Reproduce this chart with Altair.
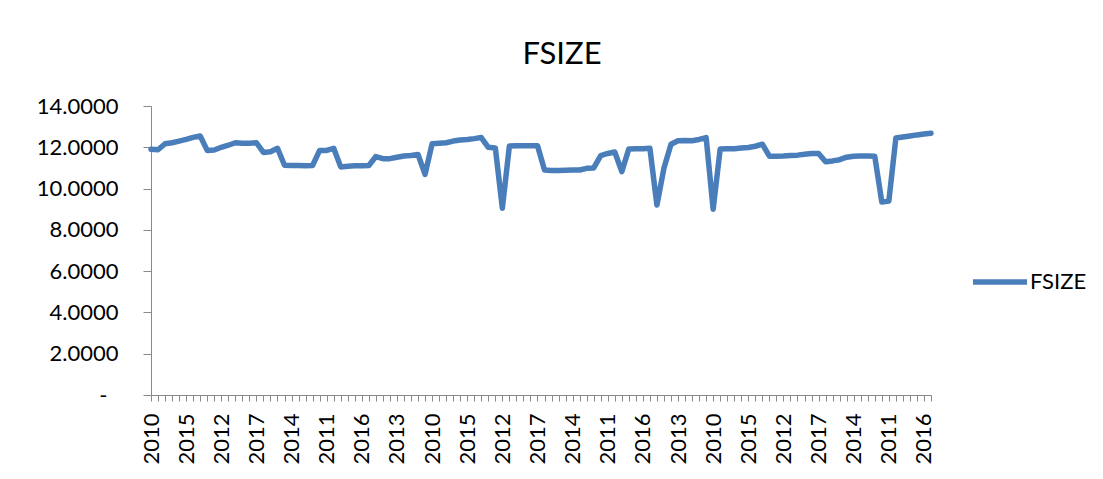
import altair as alt
import pandas as pd

series_name = "FSIZE"
years = [2010, 2011, 2012, 2013, 2014, 2015, 2016, 2017] * 14
values = [
    11.90, 11.88, 12.17, 12.22, 12.30, 12.38, 12.48, 12.55,
    11.85, 11.87, 12.00, 12.10, 12.22, 12.19, 12.20, 12.22,
    11.75, 11.78, 11.95, 11.13, 11.12, 11.12, 11.11, 11.12,
    11.85, 11.85, 11.95, 11.05, 11.08, 11.10, 11.10, 11.12,
    11.55, 11.45, 11.45, 11.52, 11.58, 11.60, 11.65, 10.69,
    12.17, 12.20, 12.22, 12.30, 12.35, 12.38, 12.42, 12.47,
    12.00, 11.97, 9.05, 12.06, 12.08, 12.08, 12.08, 12.08,
    10.90, 10.88, 10.88, 10.89, 10.90, 10.90, 10.98, 11.00,
    11.60, 11.70, 11.77, 10.82, 11.92, 11.93, 11.93, 11.95,
    9.20, 11.00, 12.15, 12.32, 12.33, 12.32, 12.38, 12.47,
    9.00, 11.92, 11.93, 11.93, 11.96, 11.99, 12.05, 12.15,
    11.57, 11.57, 11.58, 11.60, 11.62, 11.66, 11.70, 11.70,
    11.30, 11.34, 11.40, 11.52, 11.57, 11.58, 11.58, 11.56,
    9.35, 9.40, 12.45, 12.50, 12.55, 12.60, 12.64, 12.68,
]
y_ticks = [0, 2, 4, 6, 8, 10, 12, 14]

df = pd.DataFrame({
    "idx": list(range(len(values))),
    "year": years,
    "value": values,
    "series": [series_name] * len(values),
})

year_js = "[" + ",".join(str(y) for y in years) + "]"
x_label_expr = f"datum.value % 5 == 0 ? '' + {year_js}[datum.value] : ''"

FONT = "Lato"
GREY = "#898989"

chart = alt.Chart(df).mark_line(
    strokeWidth=5.5, strokeJoin="round", strokeCap="round"
).encode(
    x=alt.X(
        "idx:Q",
        scale=alt.Scale(domain=[0, len(values) - 1], nice=False, zero=False),
        axis=alt.Axis(
            title=None,
            values=list(range(len(values))),
            labelExpr=x_label_expr,
            labelAngle=270,
            labelAlign="right",
            labelBaseline="middle",
            labelOverlap=False,
            labelFlush=False,
            labelBound=False,
            labelPadding=12,
            tickSize=6,
            tickColor=GREY,
            domainColor=GREY,
            grid=False,
            labelFont=FONT,
            labelFontSize=22,
            labelColor="#000000",
        ),
    ),
    y=alt.Y(
        "value:Q",
        scale=alt.Scale(domain=[0, 14], nice=False),
        axis=alt.Axis(
            title=None,
            values=y_ticks,
            labelExpr="datum.value == 0 ? '-' : format(datum.value, '.4f')",
            labelPadding={"condition": {"test": "datum.value == 0", "value": 36}, "value": 25},
            tickSize=8,
            tickColor=GREY,
            domainColor=GREY,
            grid=False,
            labelFont=FONT,
            labelFontSize=22,
            labelColor="#000000",
        ),
    ),
    color=alt.Color(
        "series:N",
        scale=alt.Scale(range=["#4A7EBB"]),
        legend=alt.Legend(
            title=None,
            orient="none",
            legendX=819,
            legendY=146,
            symbolType="stroke",
            symbolSize=2916,
            symbolStrokeWidth=5.5,
            labelFont=FONT,
            labelFontSize=22,
            labelColor="#000000",
            padding=0,
            labelOffset=0,
        ),
    ),
).properties(
    width=780,
    height=289,
    view=alt.ViewBackground(stroke=None, strokeWidth=0),
    title=alt.TitleParams(
        "FSIZE", font=FONT, fontSize=31, fontWeight="normal", color="#000000",
        anchor="middle", offset=0, baseline="alphabetic", dx=21,
    ),
    autosize=alt.AutoSizeParams(type="none"),
    padding={"left": 143, "top": 98, "right": 164, "bottom": 76},
).configure_view(strokeWidth=0, stroke=None).configure(background="#ffffff")

chart.save("out.html", embed_options={"renderer": "svg", "actions": False})
